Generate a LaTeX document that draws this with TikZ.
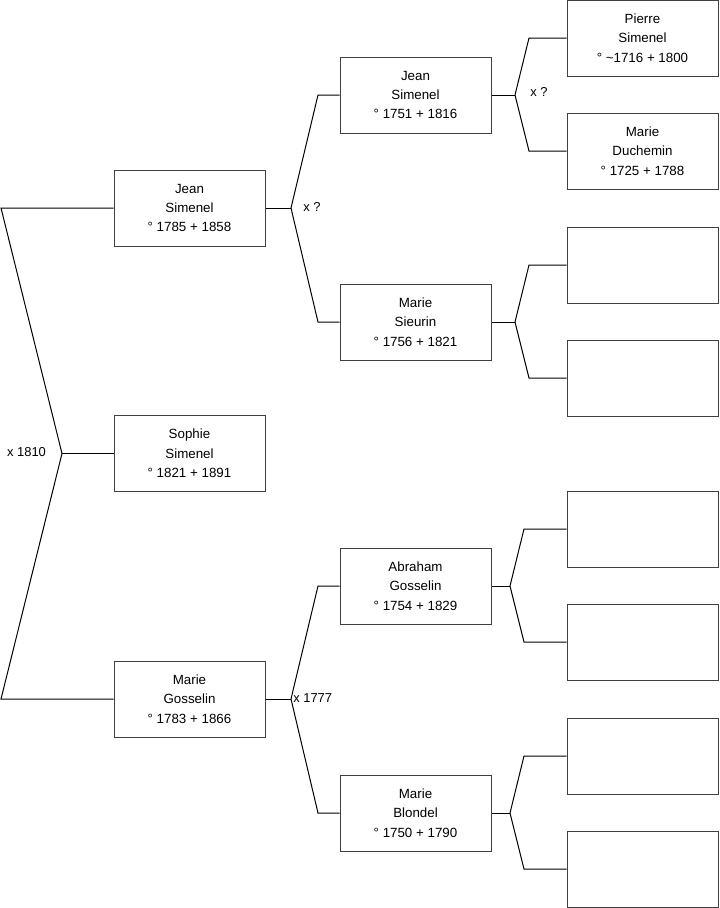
\documentclass[tikz,border=0pt]{standalone}
\usepackage{fontspec}
\setmainfont{Liberation Sans}
\begin{document}
\begin{tikzpicture}[x=0.75pt,y=-0.75pt,
  person/.style={draw=black!75,line width=0.75pt,fill=white,minimum width=113.25pt,minimum height=57pt,
    align=center,inner sep=0pt,font=\fontsize{10}{14.6}\selectfont},
  link/.style={draw=black,line width=0.75pt},
  lab/.style={font=\fontsize{9.7}{11}\selectfont,inner sep=0pt}]
\useasboundingbox (0,0) rectangle (719,908);
% generation 1
\node[person] (g1a) at (189.5,208) {Jean\\Simenel\\° 1785 + 1858};
\node[person] (g1b) at (189.5,453.5) {Sophie\\Simenel\\° 1821 + 1891};
\node[person] (g1c) at (189.5,699) {Marie\\Gosselin\\° 1783 + 1866};
% generation 2
\node[person] (g2a) at (415.5,95) {Jean\\Simenel\\° 1751 + 1816};
\node[person] (g2b) at (415.5,322) {Marie\\Sieurin\\° 1756 + 1821};
\node[person] (g2c) at (415.5,586) {Abraham\\Gosselin\\° 1754 + 1829};
\node[person] (g2d) at (415.5,813) {Marie\\Blondel\\° 1750 + 1790};
% generation 3
\node[person] (g3a) at (642.5,38) {Pierre\\Simenel\\° \textasciitilde1716 + 1800};
\node[person] (g3b) at (642.5,151) {Marie\\Duchemin\\° 1725 + 1788};
\node[person] (g3c) at (642.5,265) {};
\node[person] (g3d) at (642.5,378) {};
\node[person] (g3e) at (642.5,529) {};
\node[person] (g3f) at (642.5,642) {};
\node[person] (g3g) at (642.5,756) {};
\node[person] (g3h) at (642.5,869) {};
% left fork
\coordinate (L1) at (1,208);
\coordinate (L2) at (62,453.5);
\coordinate (L3) at (1,699);
\draw[link] (g1a.west) -- (L1) -- (L2) -- (L3) -- (g1c.west);
\draw[link] (L2) -- (g1b.west);
\node[lab] (m0) at (26.5,452) {x 1810};
% gen1 -> gen2
\coordinate (J1) at (291,208);
\coordinate (J1a) at (318,95);
\coordinate (J1b) at (318,322);
\draw[link] (g1a.east) -- (J1);
\draw[link] (J1) -- (J1a) -- (g2a.west);
\draw[link] (J1) -- (J1b) -- (g2b.west);
\node[lab] (m1) at (312,207) {x ?};
\coordinate (J2) at (291,699);
\coordinate (J2a) at (318,586);
\coordinate (J2b) at (318,813);
\draw[link] (g1c.east) -- (J2);
\draw[link] (J2) -- (J2a) -- (g2c.west);
\draw[link] (J2) -- (J2b) -- (g2d.west);
\node[lab,anchor=west] (m2) at (293,698) {x 1777};
% gen2 -> gen3
\coordinate (K1) at (515,95);
\coordinate (K1a) at (529,38);
\coordinate (K1b) at (529,151);
\draw[link] (g2a.east) -- (K1);
\draw[link] (K1) -- (K1a) -- (g3a.west);
\draw[link] (K1) -- (K1b) -- (g3b.west);
\node[lab] (m3) at (539,92) {x ?};
\coordinate (K2) at (515,322);
\coordinate (K2a) at (529,265);
\coordinate (K2b) at (529,378);
\draw[link] (g2b.east) -- (K2);
\draw[link] (K2) -- (K2a) -- (g3c.west);
\draw[link] (K2) -- (K2b) -- (g3d.west);
\coordinate (K3) at (510,586);
\coordinate (K3a) at (524,529);
\coordinate (K3b) at (524,642);
\draw[link] (g2c.east) -- (K3);
\draw[link] (K3) -- (K3a) -- (g3e.west);
\draw[link] (K3) -- (K3b) -- (g3f.west);
\coordinate (K4) at (510,813);
\coordinate (K4a) at (524,756);
\coordinate (K4b) at (524,869);
\draw[link] (g2d.east) -- (K4);
\draw[link] (K4) -- (K4a) -- (g3g.west);
\draw[link] (K4) -- (K4b) -- (g3h.west);
\end{tikzpicture}
\end{document}
